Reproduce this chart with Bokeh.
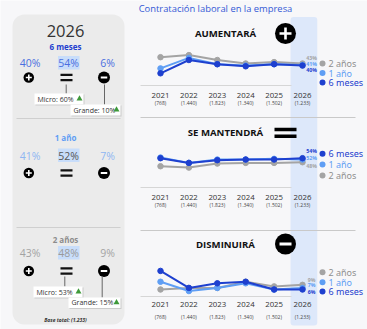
from bokeh.plotting import figure
from bokeh.models import Range1d, BoxAnnotation
from bokeh.core.properties import value
from bokeh.embed import file_html
from bokeh.resources import INLINE

# ---------------- data ----------------
years = [2021, 2022, 2023, 2024, 2025, 2026]
bases = ["(768)", "(1.440)", "(1.823)", "(1.340)", "(1.502)", "(1.233)"]

aumentara_6m = [29, 48, 42, 39, 42, 40]
aumentara_1a = [36, 51, 42, 40, 42, 41]
aumentara_2a = [52, 55, 48, 43, 45, 43]

mantendra_6m = [54, 47, 51, 52, 52, 54]
mantendra_1a = [55, 47, 52, 52, 53, 52]
mantendra_2a = [42, 40, 46, 47, 47, 48]

disminuira_6m = [18, 7, 10, 11, 6, 6]
disminuira_1a = [11, 5, 7, 10, 6, 7]
disminuira_2a = [6, 7, 7, 11, 8, 9]

micro_vals = [60, 53]
grande_vals = [10, 15]
base_total = "Base total: (1.233)"
title = "Contratación laboral en la empresa"
headers = ["AUMENTARÁ", "SE MANTENDRÁ", "DISMINUIRÁ"]
horizons = ["6 meses", "1 año", "2 años"]

# ---------------- styles ----------------
W, H = 367, 329
DARK = "#1e40cf"
LIGHT = "#5f9ef4"
GRAY = "#a4a4a4"
BG = "#f7f7f9"
PANEL = "#ebebeb"
BAND = "#dde8fa"
HL = "#c8ddfa"
FONT = "Open Sans"

p = figure(width=W, height=H, x_range=Range1d(0, W), y_range=Range1d(H, 0),
           output_backend="svg", toolbar_location=None,
           x_axis_type=None, y_axis_type=None, min_border=0)
p.outline_line_color = None
p.background_fill_color = BG
p.border_fill_color = BG

X0, XS = 160.0, 28.4
p.extra_x_ranges = {"yr": Range1d(2021 - X0 / XS, 2021 + (W - X0) / XS)}


def pct_range(v0, y0, s):
    return Range1d(v0 - (H - y0) / s, v0 + y0 / s)


p.extra_y_ranges = {"p1": pct_range(43, 63, 0.7),
                    "p2": pct_range(54, 157.7, 0.67),
                    "p3": pct_range(6, 289, 1.55)}


def txt(x, y, s, size, color, align="center", style="normal", font=FONT, **kw):
    p.text(x=[x], y=[y], text=[s], text_font=value(font), text_font_size=f"{size}px",
           text_color=color, text_align=align, text_baseline="middle",
           text_font_style=style, **kw)


# left rounded panel and 2026 band
p.add_layout(BoxAnnotation(left=12, right=124, top=14, bottom=324, fill_color=PANEL,
                           fill_alpha=1, line_color=None, border_radius=12, level="underlay"))

# faint baselines
for yb in [85, 187, 296]:
    p.segment(x0=[140], x1=[291], y0=[yb], y1=[yb], line_color="#d6d6d6", line_width=1)

p.add_layout(BoxAnnotation(left=2025.58, right=2026.52, top=16.5, bottom=325,
                           x_range_name="yr", fill_color=BAND, fill_alpha=1,
                           line_color=None, border_radius=3, level="underlay"))

# separators
for ys in [117, 230]:
    p.segment(x0=[140], x1=[355], y0=[ys], y1=[ys], line_color="#c9c9c9", line_width=1)
for ys in [118, 227]:
    p.segment(x0=[16], x1=[120], y0=[ys], y1=[ys], line_color="#cfcfcf", line_width=1)

# title
txt(215, 8, title, 9.4, "#3459d6")

# ---------------- line panels ----------------
panels = [
    ("p1", aumentara_6m, aumentara_1a, aumentara_2a, 33, 95, 102,
     [("2 años", 63), ("1 año", 72.5), ("6 meses", 82)],
     {"2 años": 57, "1 año": 63, "6 meses": 69}),
    ("p2", mantendra_6m, mantendra_1a, mantendra_2a, 132, 197, 204,
     [("6 meses", 153.3), ("1 año", 164), ("2 años", 175)],
     {"6 meses": 150, "1 año": 157, "2 años": 165}),
    ("p3", disminuira_6m, disminuira_1a, disminuira_2a, 244, 304, 316.5,
     [("2 años", 271.7), ("1 año", 281.7), ("6 meses", 291)],
     {"2 años": 279.5, "1 año": 284.5, "6 meses": 291.5}),
]
colors = {"6 meses": DARK, "1 año": LIGHT, "2 años": GRAY}
legend_text_colors = {"6 meses": DARK, "1 año": LIGHT, "2 años": "#8f8f8f"}

for i, (rn, s6, s1, s2, yh, yy, yc, legend, vlab) in enumerate(panels):
    series = {"6 meses": s6, "1 año": s1, "2 años": s2}
    for name in ["2 años", "1 año", "6 meses"]:
        vals = series[name]
        col = colors[name]
        p.line(years, vals, x_range_name="yr", y_range_name=rn, line_color=col, line_width=2)
        p.scatter(years, vals, x_range_name="yr", y_range_name=rn, size=5.5,
                  fill_color=col, line_color=col)
    # year tick labels
    p.text(x=years, y=[yy] * 6, text=[str(y) for y in years], x_range_name="yr",
           text_font=value(FONT), text_font_size="7.8px", text_color="#333333",
           text_align="center", text_baseline="middle")
    p.text(x=years, y=[yc] * 6, text=bases, x_range_name="yr",
           text_font=value(FONT), text_font_size="5px", text_color="#444444",
           text_align="center", text_baseline="middle")
    # header
    txt(225, yh, headers[i], 9.6, "#111111", style="bold")
    # legend
    for name, yl in legend:
        p.scatter([322], [yl], size=6, fill_color=colors[name], line_color=None)
        txt(328, yl, name, 9, legend_text_colors[name], align="left", font="Noto Sans")
        txt(311, vlab[name], f"{series[name][-1]}%", 5.2, colors[name], style="bold")

# big icons
p.scatter([285], [33], size=21, fill_color="black", line_color=None)
p.scatter([285], [33], size=12, marker="cross", line_color="white", line_width=2.6)
p.quad(left=[274], right=[296], top=[127.3], bottom=[130.8], fill_color="black", line_color=None)
p.quad(left=[274], right=[296], top=[134], bottom=[137.5], fill_color="black", line_color=None)
p.scatter([285], [243.5], size=21, fill_color="black", line_color=None)
p.scatter([285], [243.5], size=12, marker="dash", line_color="white", line_width=2.8)

# ---------------- left panel ----------------
txt(65, 30, "2026", 16.5, "#333333")

rows = [
    (0, 46, 62.5, 77, DARK, "#4a6fe0", "#4a6fe0",
     [aumentara_6m[-1], mantendra_6m[-1], disminuira_6m[-1]]),
    (1, 137, 155, 172.5, LIGHT, "#8fb6f2", "#555555",
     [aumentara_1a[-1], mantendra_1a[-1], disminuira_1a[-1]]),
    (2, 239, 252.5, 270.5, "#8c8c8c", "#a3a3a3", "#9a9a9a",
     [aumentara_2a[-1], mantendra_2a[-1], disminuira_2a[-1]]),
]
for k, yt, yp, yi, tcol, scol, ccol, vals in rows:
    txt(65, yt, horizons[k], 8, tcol, style="bold")
    p.quad(left=[57.5], right=[79], top=[yp - 7], bottom=[yp + 6.5], fill_color=HL, line_color=None)
    txt(29.5, yp, f"{vals[0]}%", 10.5, scol)
    txt(68, yp, f"{vals[1]}%", 10.5, ccol)
    txt(107, yp, f"{vals[2]}%", 10.5, scol)
    # icons
    p.scatter([28.3], [yi], size=10.5, fill_color="black", line_color=None)
    p.scatter([28.3], [yi], size=6, marker="cross", line_color="white", line_width=1.6)
    p.quad(left=[60], right=[72], top=[yi - 3.8], bottom=[yi - 1.6], fill_color="#111111", line_color=None)
    p.quad(left=[60], right=[72], top=[yi + 1.6], bottom=[yi + 3.8], fill_color="#111111", line_color=None)
    p.scatter([103.5], [yi], size=12, fill_color="black", line_color=None)
    p.scatter([103.5], [yi], size=6.5, marker="dash", line_color="white", line_width=1.8)

# micro / grande callouts
callouts = [
    (0, 65.7, 84, 93, 34, 83, 93, 104, 104, 84, 104, 70, 120, 104, 115),
    (1, 64.3, 276, 286, 33, 82, 286, 297, 101.7, 276, 297, 68, 120, 297, 307.5),
]
for j, mx, my0, my1, ml, mr, mt, mb, gx, gy0, gy1, gl, gr, gt, gb in callouts:
    p.segment(x0=[mx], x1=[mx], y0=[my0], y1=[my1], line_color="#666666", line_width=1)
    p.segment(x0=[gx], x1=[gx], y0=[gy0], y1=[gy1], line_color="#666666", line_width=1)
    for (l, r, t, b, label) in [(ml, mr, mt, mb, f"Micro: {micro_vals[j]}%"),
                                (gl, gr, gt, gb, f"Grande: {grande_vals[j]}%")]:
        p.quad(left=[l + 1], right=[r + 1], top=[t + 1], bottom=[b + 1], fill_color="#bdbdbd",
               fill_alpha=0.7, line_color=None)
        p.quad(left=[l], right=[r], top=[t], bottom=[b], fill_color="white", line_color=None)
        txt(l + 3, (t + b) / 2, label, 7, "#333333", align="left")
        p.scatter([r - 4], [(t + b) / 2 - 0.3], size=6, marker="triangle",
                  fill_color="#3f9a3a", line_color=None)

txt(65, 319.5, base_total, 5, "#333333", style="bold italic")

open("out.html", "w").write(file_html(p, INLINE))
